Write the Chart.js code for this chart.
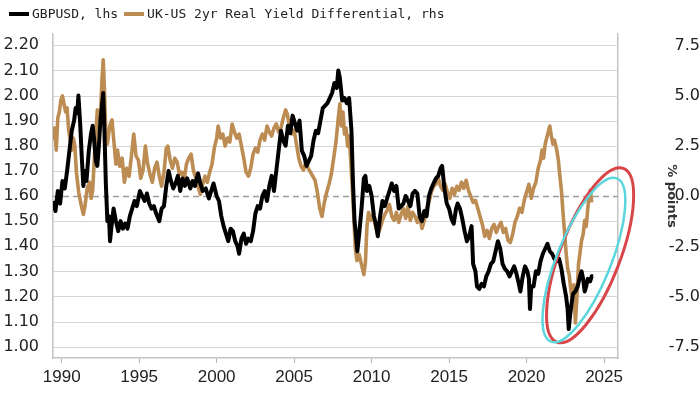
<!DOCTYPE html>
<html>
<head>
<meta charset="utf-8">
<script src="https://cdn.jsdelivr.net/npm/chart.js@4.4.1/dist/chart.umd.min.js"></script>
<style>
  body { margin: 0; background: #fff; }
  #wrap { position: relative; width: 700px; height: 394px; }
  #legend { position: absolute; left: 9px; top: 6px; font: 13px "DejaVu Sans Mono", monospace; color: #222;
            display: flex; align-items: center; white-space: nowrap; }
  #legend .sw { display: inline-block; width: 20px; height: 4px; margin-right: 3px; }
  #legend .item { display: flex; align-items: center; margin-right: 6px; }
</style>
</head>
<body>
<div id="wrap">
  <canvas id="chart" width="700" height="394"></canvas>
  <div id="legend"></div>
</div>
<script>
// GBPUSD, left axis
const gbpDates = [
  1989.45, 1989.6, 1989.75, 1989.9, 1990.05, 1990.2, 1990.35, 1990.5, 1990.65, 1990.8, 1990.9, 1991.0, 1991.08,
  1991.2, 1991.3, 1991.4, 1991.5, 1991.6, 1991.75, 1991.9, 1992.0, 1992.1, 1992.2, 1992.3, 1992.4, 1992.5, 1992.6,
  1992.68, 1992.75, 1992.85, 1992.95, 1993.05, 1993.12, 1993.2, 1993.35, 1993.5, 1993.65, 1993.8, 1993.95, 1994.1,
  1994.25, 1994.4, 1994.55, 1994.7, 1994.85, 1995.05, 1995.2, 1995.35, 1995.5, 1995.65, 1995.8, 1995.95, 1996.1,
  1996.3, 1996.45, 1996.6, 1996.75, 1996.9, 1997.05, 1997.2, 1997.35, 1997.5, 1997.65, 1997.8, 1997.95, 1998.1,
  1998.3, 1998.45, 1998.6, 1998.8, 1998.95, 1999.1, 1999.3, 1999.5, 1999.65, 1999.8, 2000.0, 2000.15, 2000.3,
  2000.45, 2000.6, 2000.75, 2000.9, 2001.05, 2001.2, 2001.35, 2001.45, 2001.6, 2001.75, 2001.9, 2002.05, 2002.2,
  2002.35, 2002.5, 2002.65, 2002.8, 2002.95, 2003.1, 2003.25, 2003.4, 2003.55, 2003.7, 2003.85, 2004.0, 2004.15,
  2004.3, 2004.45, 2004.6, 2004.75, 2004.9, 2005.05, 2005.2, 2005.35, 2005.5, 2005.65, 2005.8, 2005.95, 2006.1,
  2006.25, 2006.4, 2006.55, 2006.7, 2006.85, 2007.0, 2007.15, 2007.3, 2007.45, 2007.6, 2007.75, 2007.85, 2007.95,
  2008.1, 2008.25, 2008.4, 2008.55, 2008.7, 2008.8, 2008.9, 2009.0, 2009.08, 2009.2, 2009.35, 2009.5, 2009.6,
  2009.7, 2009.85, 2010.0, 2010.15, 2010.3, 2010.4, 2010.55, 2010.7, 2010.85, 2011.0, 2011.15, 2011.3, 2011.45,
  2011.6, 2011.75, 2011.9, 2012.05, 2012.2, 2012.35, 2012.5, 2012.65, 2012.8, 2012.95, 2013.1, 2013.25, 2013.4,
  2013.55, 2013.7, 2013.85, 2014.0, 2014.15, 2014.3, 2014.45, 2014.55, 2014.7, 2014.85, 2015.0, 2015.15, 2015.3,
  2015.45, 2015.55, 2015.7, 2015.85, 2016.0, 2016.15, 2016.3, 2016.45, 2016.55, 2016.7, 2016.8, 2016.95, 2017.1,
  2017.25, 2017.4, 2017.55, 2017.7, 2017.85, 2018.0, 2018.15, 2018.3, 2018.45, 2018.6, 2018.75, 2018.9, 2019.05,
  2019.2, 2019.35, 2019.5, 2019.6, 2019.75, 2019.9, 2020.05, 2020.15, 2020.22, 2020.3, 2020.45, 2020.6, 2020.75,
  2020.9, 2021.05, 2021.2, 2021.35, 2021.5, 2021.65, 2021.8, 2021.95, 2022.1, 2022.25, 2022.4, 2022.55, 2022.65,
  2022.72, 2022.8, 2022.9, 2023.0, 2023.15, 2023.3, 2023.45, 2023.55, 2023.65, 2023.75, 2023.85, 2023.95, 2024.1,
  2024.2, 2024.3
];
const gbpValues = [
  1.58, 1.54, 1.62, 1.57, 1.66, 1.63, 1.70, 1.78, 1.86, 1.90, 1.95, 1.93, 2.00,
  1.88, 1.75, 1.64, 1.70, 1.66, 1.78, 1.85, 1.88, 1.82, 1.74, 1.72, 1.80, 1.90, 1.96,
  2.01, 1.88, 1.65, 1.50, 1.52, 1.42, 1.47, 1.55, 1.50, 1.46, 1.50, 1.47, 1.49,
  1.47, 1.52, 1.55, 1.58, 1.56, 1.62, 1.60, 1.58, 1.61, 1.57, 1.55, 1.56, 1.53,
  1.50, 1.55, 1.56, 1.64, 1.70, 1.66, 1.63, 1.65, 1.68, 1.62, 1.67, 1.64, 1.67,
  1.63, 1.66, 1.64, 1.69, 1.65, 1.62, 1.63, 1.59, 1.62, 1.65, 1.60, 1.58, 1.52,
  1.48, 1.45, 1.42, 1.47, 1.46, 1.42, 1.40, 1.37, 1.43, 1.45, 1.41, 1.43, 1.42,
  1.46, 1.53, 1.56, 1.55, 1.60, 1.62, 1.58, 1.64, 1.68, 1.62, 1.70, 1.78, 1.86,
  1.82, 1.80, 1.88, 1.85, 1.92, 1.89, 1.86, 1.90, 1.78, 1.76, 1.72, 1.74, 1.76,
  1.82, 1.86, 1.85, 1.90, 1.95, 1.96, 1.97, 1.99, 2.01, 2.05, 2.03, 2.10, 2.07,
  1.98, 1.99, 1.97, 1.99, 1.86, 1.65, 1.50, 1.44, 1.38, 1.45, 1.55, 1.67, 1.68,
  1.62, 1.64, 1.60, 1.52, 1.48, 1.44, 1.52, 1.58, 1.56, 1.59, 1.62, 1.65, 1.62,
  1.64, 1.55, 1.56, 1.57, 1.60, 1.58, 1.56, 1.61, 1.62, 1.61, 1.52, 1.50, 1.54,
  1.52, 1.60, 1.63, 1.65, 1.67, 1.68, 1.71, 1.72, 1.63, 1.57, 1.55, 1.51, 1.49,
  1.55, 1.57, 1.55, 1.51, 1.46, 1.42, 1.44, 1.48, 1.33, 1.30, 1.24, 1.23, 1.25,
  1.24, 1.28, 1.30, 1.33, 1.34, 1.38, 1.42, 1.39, 1.33, 1.31, 1.30, 1.28, 1.30,
  1.32, 1.29, 1.25, 1.22, 1.28, 1.32, 1.30, 1.27, 1.15, 1.24, 1.24, 1.30, 1.29,
  1.34, 1.37, 1.39, 1.41, 1.38, 1.37, 1.35, 1.34, 1.35, 1.31, 1.25, 1.20, 1.15,
  1.07, 1.12, 1.17, 1.21, 1.22, 1.24, 1.28, 1.30, 1.27, 1.22, 1.24, 1.27, 1.26,
  1.28, 1.28
];

// UK-US 2yr real yield differential, right axis (% points)
const ryDates = [
  1989.45, 1989.55, 1989.65, 1989.75, 1989.85, 1989.95, 1990.05, 1990.15, 1990.25, 1990.35, 1990.45, 1990.55,
  1990.65, 1990.75, 1990.85, 1990.95, 1991.1, 1991.25, 1991.4, 1991.5, 1991.65, 1991.8, 1991.9, 1992.0, 1992.15,
  1992.3, 1992.4, 1992.5, 1992.6, 1992.68, 1992.75, 1992.85, 1992.95, 1993.1, 1993.25, 1993.35, 1993.5, 1993.6,
  1993.75, 1993.9, 1994.05, 1994.2, 1994.35, 1994.5, 1994.65, 1994.8, 1994.95, 1995.1, 1995.25, 1995.4, 1995.55,
  1995.7, 1995.85, 1996.0, 1996.15, 1996.3, 1996.45, 1996.6, 1996.75, 1996.85, 1997.0, 1997.15, 1997.3, 1997.45,
  1997.6, 1997.75, 1997.9, 1998.05, 1998.2, 1998.35, 1998.5, 1998.65, 1998.8, 1998.95, 1999.1, 1999.25, 1999.4,
  1999.55, 1999.7, 1999.85, 2000.0, 2000.1, 2000.25, 2000.4, 2000.55, 2000.7, 2000.85, 2001.0, 2001.15, 2001.3,
  2001.45, 2001.6, 2001.75, 2001.9, 2002.05, 2002.2, 2002.35, 2002.5, 2002.65, 2002.8, 2002.95, 2003.1, 2003.25,
  2003.4, 2003.55, 2003.7, 2003.85, 2004.0, 2004.15, 2004.3, 2004.45, 2004.55, 2004.7, 2004.85, 2005.0, 2005.15,
  2005.3, 2005.45, 2005.6, 2005.75, 2005.9, 2006.05, 2006.2, 2006.35, 2006.5, 2006.65, 2006.8, 2006.95, 2007.1,
  2007.25, 2007.4, 2007.55, 2007.7, 2007.85, 2007.95, 2008.05, 2008.15, 2008.25, 2008.35, 2008.45, 2008.55,
  2008.65, 2008.75, 2008.85, 2008.95, 2009.05, 2009.2, 2009.35, 2009.5, 2009.6, 2009.7, 2009.8, 2009.95, 2010.1,
  2010.25, 2010.4, 2010.55, 2010.7, 2010.85, 2011.0, 2011.15, 2011.3, 2011.45, 2011.6, 2011.75, 2011.9, 2012.05,
  2012.2, 2012.35, 2012.5, 2012.65, 2012.8, 2012.95, 2013.1, 2013.25, 2013.4, 2013.55, 2013.7, 2013.85, 2014.0,
  2014.15, 2014.3, 2014.45, 2014.6, 2014.75, 2014.9, 2015.05, 2015.2, 2015.35, 2015.5, 2015.65, 2015.8, 2015.95,
  2016.1, 2016.25, 2016.4, 2016.55, 2016.7, 2016.85, 2017.0, 2017.15, 2017.3, 2017.45, 2017.6, 2017.75, 2017.9,
  2018.05, 2018.2, 2018.35, 2018.5, 2018.65, 2018.8, 2018.95, 2019.1, 2019.25, 2019.4, 2019.55, 2019.7, 2019.85,
  2020.0, 2020.15, 2020.3, 2020.45, 2020.6, 2020.75, 2020.9, 2021.0, 2021.1, 2021.2, 2021.3, 2021.4, 2021.5,
  2021.6, 2021.7, 2021.8, 2021.95, 2022.05, 2022.15, 2022.25, 2022.35, 2022.45, 2022.55, 2022.65, 2022.75,
  2022.85, 2022.95, 2023.05, 2023.15, 2023.25, 2023.35, 2023.45, 2023.55, 2023.65, 2023.75, 2023.85, 2023.95,
  2024.05, 2024.12, 2024.2
];
const ryValues = [
  2.8, 3.4, 2.3, 3.9, 4.2, 4.8, 5.0, 4.6, 4.2, 4.4, 3.3, 2.8,
  2.3, 2.9, 2.5, 1.2, 0.2, -0.4, -0.9, -0.5, 0.4, 0.7, -0.1, 0.3, 2.5,
  4.3, 3.8, 4.0, 5.8, 6.8, 5.5, 3.0, 2.6, 3.5, 3.8, 2.9, 1.6, 2.3,
  1.5, 1.9, 0.7, 1.4, 1.0, 2.0, 3.1, 2.0, 1.8, 0.9, 1.3, 2.5, 1.6,
  1.1, 0.7, 1.4, 1.7, 1.0, 0.5, 1.2, 2.4, 2.5, 1.8, 1.4, 1.9, 1.7,
  1.1, 1.2, 0.8, 1.6, 1.9, 2.1, 1.3, 0.9, 0.5, 0.1, 0.6, 1.0, 0.7,
  1.2, 1.6, 2.4, 2.9, 3.5, 2.9, 3.1, 2.5, 2.9, 2.7, 3.6, 3.2, 2.9,
  3.1, 2.5, 1.9, 1.2, 1.0, 1.4, 2.1, 2.4, 2.2, 2.8, 3.1, 2.8, 3.5,
  3.2, 3.0, 3.4, 3.6, 3.2, 3.4, 3.9, 4.3, 4.1, 3.5, 3.1, 3.3, 2.6,
  1.9, 1.5, 1.3, 1.7, 1.4, 1.2, 1.0, 0.8, 0.2, -0.6, -1.0, -0.3, 0.2,
  0.6, 1.1, 1.9, 2.7, 3.9, 4.6, 3.5, 4.2, 3.1, 3.4, 2.5, 3.0,
  1.8, 0.5, -1.0, -2.6, -3.2, -2.9, -3.4, -3.9, -3.3, -1.5, -0.8, -1.2, -0.9,
  -1.5, -1.9, -1.6, -1.2, -0.9, -0.7, -0.4, -1.0, -1.2, -0.8, -1.3, -0.9, -0.6,
  -1.1, -0.5, -1.2, -0.8, -1.0, -1.3, -1.0, -1.6, -1.2, -0.6, -0.3, 0.2, 0.5,
  0.6, 0.9, 0.5, 0.3, 0.6, 0.2, -0.1, 0.4, 0.1, 0.5, 0.3, 0.7, 0.4,
  0.8, 0.3, 0.0, -0.3, -0.2, -0.6, -1.0, -1.4, -2.0, -1.7, -2.1, -1.6, -1.4,
  -1.8, -1.5, -1.3, -1.8, -1.6, -2.2, -2.3, -1.9, -1.3, -1.0, -0.6, -0.8, -0.2,
  0.2, 0.6, -0.1, 0.4, 0.7, 1.4, 1.8, 2.3, 1.9, 2.6, 2.9, 3.2, 3.5,
  3.0, 2.6, 2.8, 2.3, 1.8, 1.0, 0.3, -0.8, -1.8, -2.8, -3.6, -3.9,
  -4.6, -5.2, -4.4, -6.3, -5.0, -3.4, -2.8, -2.2, -1.9, -1.2, -1.5, -0.6,
  0.1, 0.3, -0.3
];

const xTicks = [1990, 1995, 2000, 2005, 2010, 2015, 2020, 2025];
const leftTicks = [1.0, 1.1, 1.2, 1.3, 1.4, 1.5, 1.6, 1.7, 1.8, 1.9, 2.0, 2.1, 2.2];
const rightTicks = [-7.5, -5.0, -2.5, 0.0, 2.5, 5.0, 7.5];

const seriesNames = ['GBPUSD, lhs', 'UK-US 2yr Real Yield Differential, rhs'];
const seriesColors = ['#000000', '#BC8C52'];

// hand drawn rings around the last two years (centre in data units)
const rings = [
  { year: 2024.1, value: 1.364, rx: 30, ry: 93, rot: 21, color: '#D8464A', width: 3 },
  { year: 2023.7, value: 1.345, rx: 27, ry: 88, rot: 22, color: '#5BD6DC', width: 2.5 }
];

// legend
const legend = document.getElementById('legend');
legend.innerHTML = seriesNames.map((name, i) =>
  `<span class="item"><span class="sw" style="background:${seriesColors[i]}"></span>${name}</span>`
).join('');

// horizontal grid, one line per left tick; 1.60 (= 0 on the right) is dashed
const gridPlugin = {
  id: 'gridPlugin',
  beforeDatasetsDraw(chart) {
    const { ctx, chartArea, scales: { y } } = chart;
    const { left, right } = chartArea;
    ctx.save();
    leftTicks.forEach(v => {
      const py = Math.round(y.getPixelForValue(v)) + 0.5;
      const mid = Math.abs(v - 1.6) < 1e-6;
      ctx.strokeStyle = mid ? '#9c9c9c' : '#d6d6d6';
      ctx.lineWidth = mid ? 1.5 : 1;
      ctx.setLineDash(mid ? [6, 4] : []);
      ctx.beginPath();
      ctx.moveTo(left, py);
      ctx.lineTo(right, py);
      ctx.stroke();
    });
    ctx.restore();
  }
};

const ringPlugin = {
  id: 'ringPlugin',
  afterDatasetsDraw(chart) {
    const { ctx, scales: { x, y } } = chart;
    rings.forEach(r => {
      ctx.save();
      ctx.strokeStyle = r.color;
      ctx.lineWidth = r.width;
      ctx.beginPath();
      ctx.ellipse(x.getPixelForValue(r.year), y.getPixelForValue(r.value), r.rx, r.ry,
        r.rot * Math.PI / 180, 0, 2 * Math.PI);
      ctx.stroke();
      ctx.restore();
    });
  }
};

const axisFont = { family: '"DejaVu Sans", sans-serif', size: 16 };

new Chart(document.getElementById('chart'), {
  type: 'line',
  data: {
    datasets: [
      {
        label: seriesNames[0],
        data: gbpDates.map((d, i) => ({ x: d, y: gbpValues[i] })),
        borderColor: seriesColors[0],
        backgroundColor: seriesColors[0],
        borderWidth: 4,
        yAxisID: 'y'
      },
      {
        label: seriesNames[1],
        data: ryDates.map((d, i) => ({ x: d, y: ryValues[i] })),
        borderColor: seriesColors[1],
        backgroundColor: seriesColors[1],
        borderWidth: 3.6,
        yAxisID: 'y2'
      }
    ]
  },
  options: {
    responsive: false,
    animation: false,
    devicePixelRatio: 1,
    layout: { padding: { top: 34, left: 0, right: 0, bottom: 0 } },
    elements: { point: { radius: 0 }, line: { tension: 0, borderJoinStyle: 'round' } },
    plugins: { legend: { display: false }, tooltip: { enabled: false } },
    scales: {
      x: {
        type: 'linear',
        min: 1989.44,
        max: 2025.9,
        afterBuildTicks: s => { s.ticks = xTicks.map(v => ({ value: v })); },
        afterFit: s => { s.height = 36; },
        ticks: {
          autoSkip: false, maxRotation: 0, padding: 4, color: '#222',
          font: { family: '"Liberation Sans Narrow", "Liberation Sans", sans-serif', size: 17 },
          callback: v => String(v)
        },
        grid: { drawOnChartArea: false, drawTicks: true, tickLength: 5, tickColor: '#b5b5b5' },
        border: { display: true, color: '#c4c4c4', width: 1.5 }
      },
      y: {
        position: 'left',
        min: 0.955,
        max: 2.245,
        afterBuildTicks: s => { s.ticks = leftTicks.map(v => ({ value: v })); },
        afterFit: s => { s.width = 53; },
        ticks: { autoSkip: false, padding: 6, color: '#222', font: axisFont, callback: v => v.toFixed(2) },
        grid: { display: false },
        border: { display: true, color: '#c4c4c4', width: 1.5 }
      },
      y2: {
        position: 'right',
        min: -8.05,
        max: 8.08,
        afterBuildTicks: s => { s.ticks = rightTicks.map(v => ({ value: v })); },
        afterFit: s => { s.width = 82; },
        ticks: { autoSkip: false, padding: 9, crossAlign: 'far', color: '#222', font: axisFont, callback: v => v.toFixed(1) },
        grid: { display: false },
        border: { display: true, color: '#c4c4c4', width: 1.5 },
        title: {
          display: true, text: '% points', color: '#333',
          font: { family: '"DejaVu Sans", sans-serif', size: 13, weight: 'bold' },
          padding: { top: 21, bottom: 0 }
        }
      }
    }
  },
  plugins: [gridPlugin, ringPlugin]
});
</script>
</body>
</html>
